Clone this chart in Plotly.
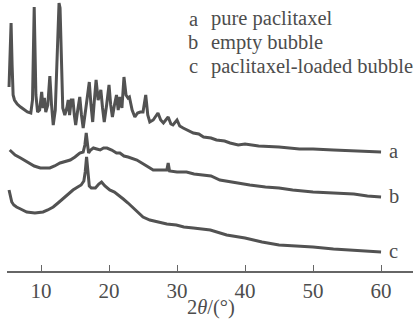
import plotly.graph_objects as go

# 2theta (degrees) and relative intensity (arbitrary, offset stacked)
two_theta_a = [5.3, 5.45, 5.6, 5.75, 5.9, 6.1, 6.5, 7.0, 7.5, 8.0, 8.5, 8.75, 9.0, 9.25, 9.5, 9.8,
               10.1, 10.3, 10.5, 10.7, 11.0, 11.3, 11.55, 11.8, 12.1, 12.4, 12.65, 12.8, 13.0, 13.2,
               13.5, 13.8, 14.0, 14.2, 14.45, 14.7, 14.9, 15.1, 15.4, 15.7, 15.95, 16.2, 16.6, 17.1,
               17.35, 17.6, 17.85, 18.1, 18.4, 18.8, 19.05, 19.3, 19.65, 20.0, 20.25, 20.5, 20.8,
               21.1, 21.35, 21.6, 21.9, 22.2, 22.5, 22.8, 23.0, 23.4, 23.8, 24.2, 24.6, 25.0, 25.4,
               25.7, 26.0, 26.5, 27.2, 27.6, 28.0, 28.7, 29.1, 29.4, 30.0, 30.4, 30.9, 31.5, 32.4,
               33.2, 33.9, 35.0, 35.8, 37.0, 37.8, 39.0, 40.0, 42.0, 45.0, 48.0, 50.0, 53.0, 56.0, 60.0]
intensity_a = [184, 211, 248, 206, 176, 171, 167, 164, 161, 159, 158, 171, 264, 176, 159, 161,
               179, 163, 173, 159, 166, 195, 166, 146, 161, 231, 268, 263, 211, 163,
               156, 163, 171, 156, 171, 171, 156, 146, 161, 174, 156, 143, 163, 189,
               166, 149, 171, 191, 171, 181, 163, 149, 166, 186, 166, 154, 166,
               176, 161, 174, 163, 194, 176, 173, 174, 161, 154, 158, 159, 159, 176,
               156, 149, 151, 158, 151, 148, 154, 147, 146, 151, 145, 143, 141, 138,
               137, 134, 133, 131, 130, 128, 126, 127, 125, 124, 122, 122, 121, 120, 119]

two_theta_b = [5.4, 5.8, 6.2, 7.0, 7.9, 9.0, 9.9, 11.3, 12.0, 12.8, 14.3, 15.0, 15.7, 16.2, 16.45,
               16.65, 16.85, 17.0, 17.3, 17.7, 18.2, 18.7, 19.2, 19.7, 20.4, 21.1, 21.6, 22.2, 22.8,
               24.1, 25.3, 26.5, 27.5, 28.5, 28.7, 28.9, 30.0, 31.4, 32.5, 33.9, 35.0, 36.3, 38.8,
               40.7, 43.0, 45.0, 47.0, 50.0, 53.0, 56.0, 58.0, 60.0]
intensity_b = [121, 118, 116, 113, 109, 105, 103, 103, 105, 108, 111, 114, 118, 119, 126,
               138, 126, 118, 121, 123, 122, 121, 123, 123, 121, 118, 118, 115, 114,
               111, 106, 101, 101, 101, 108, 100, 99, 99, 97, 96, 95, 91, 88,
               86, 84, 83, 81, 79, 78, 77, 75, 74]

two_theta_c = [5.3, 5.5, 5.7, 6.0, 6.4, 7.0, 7.9, 9.1, 10.3, 11.0, 11.8, 12.5, 13.3, 14.0, 14.7,
               15.4, 15.9, 16.3, 16.5, 16.7, 16.9, 17.1, 17.4, 18.0, 18.5, 18.9, 19.4, 20.1, 20.8,
               21.4, 22.1, 22.8, 23.4, 24.2, 25.0, 26.0, 27.5, 28.5, 29.9, 31.0, 32.4, 34.9, 37.3,
               40.0, 42.5, 45.0, 47.5, 50.0, 53.0, 55.0, 57.5, 60.0]
intensity_c = [81, 74, 69, 66, 64, 62, 59, 58, 59, 61, 64, 68, 73, 77, 81,
               84, 86, 90, 99, 114, 99, 85, 83, 83, 87, 89, 85, 81, 79,
               76, 72, 68, 64, 59, 54, 51, 49, 47, 46, 44, 43, 41, 36,
               33, 29, 26, 25, 24, 22, 21, 20, 19]

curve_letters = ["a", "b", "c"]
legend_names = ["pure paclitaxel", "empty bubble", "paclitaxel-loaded bubble"]
x_ticks = [10, 20, 30, 40, 50, 60]

series = [(two_theta_a, intensity_a), (two_theta_b, intensity_b), (two_theta_c, intensity_c)]

INK = "#4d4d4d"
FONT = "Liberation Serif, Times New Roman, serif"

fig = go.Figure()
for (xs, ys), name in zip(series, legend_names):
    fig.add_trace(go.Scatter(x=xs, y=ys, mode="lines", name=name,
                             line=dict(color="#525252", width=3.0), showlegend=False))

# curve end labels
for (xs, ys), letter in zip(series, curve_letters):
    fig.add_annotation(x=xs[-1], y=ys[-1], xref="x", yref="y", text=letter,
                       showarrow=False, xanchor="left", xshift=6, yshift=1,
                       font=dict(family=FONT, size=20.5, color=INK))

# key text at top right
for i, (letter, name) in enumerate(zip(curve_letters, legend_names)):
    yp = 1 - (19 + 23.5 * i) / 271
    fig.add_annotation(x=(193 - 7) / 406, y=yp, xref="paper", yref="paper", text=letter,
                       showarrow=False, xanchor="center", yanchor="middle",
                       font=dict(family=FONT, size=20.5, color=INK))
    fig.add_annotation(x=(209 - 7) / 406, y=yp, xref="paper", yref="paper", text=name,
                       showarrow=False, xanchor="left", yanchor="middle",
                       font=dict(family=FONT, size=20.5, color=INK))

# axis title
fig.add_annotation(x=0.503, y=-36 / 271, xref="paper", yref="paper",
                   text="2<i>θ</i>/(°)", showarrow=False, xanchor="center", yanchor="middle",
                   font=dict(family=FONT, size=20.5, color=INK))

fig.update_layout(
    width=418, height=323,
    margin=dict(l=7, r=5, t=0, b=52),
    paper_bgcolor="white", plot_bgcolor="white",
    font=dict(family=FONT, size=20, color=INK),
    xaxis=dict(range=[5, 64.7], tickvals=x_ticks, ticks="inside", ticklen=6, tickwidth=1.3,
               tickcolor="#666666", showline=True, linecolor="#666666", linewidth=1.5,
               showgrid=False, zeroline=False,
               tickfont=dict(family=FONT, size=21, color=INK)),
    yaxis=dict(range=[0, 271], visible=False, showgrid=False, zeroline=False),
)

fig.write_html("out.html", config={"displayModeBar": False},
               post_script="document.body.style.margin='0';")
